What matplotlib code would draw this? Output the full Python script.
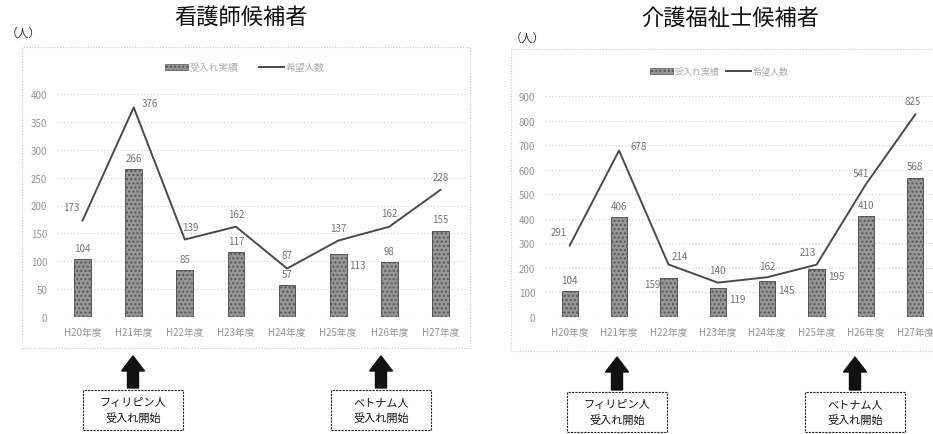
import matplotlib
matplotlib.use("Agg")
import matplotlib.pyplot as plt
from matplotlib.patches import Rectangle, FancyArrow

plt.rcParams["font.family"] = ["Noto Sans CJK JP", "DejaVu Sans"]

years = ["H20年度", "H21年度", "H22年度", "H23年度", "H24年度", "H25年度", "H26年度", "H27年度"]

nurse_accepted = [104, 266, 85, 117, 57, 113, 98, 155]
nurse_applicants = [173, 376, 139, 162, 87, 137, 162, 228]
nurse_yticks = [0, 50, 100, 150, 200, 250, 300, 350, 400]

care_accepted = [104, 406, 159, 119, 145, 195, 410, 568]
care_applicants = [291, 678, 214, 140, 162, 213, 541, 825]
care_yticks = [0, 100, 200, 300, 400, 500, 600, 700, 800, 900]

W, H = 933, 435
fig = plt.figure(figsize=(W / 100, H / 100), dpi=100)
fig.patch.set_facecolor("white")

BAR_FACE = "#969696"
BAR_EDGE = "#555555"
LINE_COLOR = "#4a4a4a"


def px_axes(left, top, right, bottom):
    # pixel box (from top-left) -> figure fraction axes
    return fig.add_axes([left / W, 1 - bottom / H, (right - left) / W, (bottom - top) / H])


def fig_text(x, y, s, **kw):
    fig.text(x / W, 1 - y / H, s, **kw)


def draw_chart(ax, accepted, applicants, yticks, bar_offsets, line_offsets):
    x = range(len(years))
    ax.bar(x, accepted, width=0.33, color=BAR_FACE, edgecolor=BAR_EDGE,
           hatch="....", linewidth=0.7, zorder=2)
    ax.plot(x, applicants, color=LINE_COLOR, linewidth=1.4, zorder=3)
    ax.set_xlim(-0.5, len(years) - 0.5)
    ax.set_ylim(yticks[0], yticks[-1])
    ax.set_yticks(yticks)
    ax.set_xticks(list(x))
    ax.set_xticklabels(years)
    ax.tick_params(length=0, labelsize=7, labelcolor="#939393", pad=7)
    ax.yaxis.grid(True, color="#d0d0d0", linestyle=(0, (1, 2)), linewidth=0.8)
    ax.set_axisbelow(True)
    for s in ax.spines.values():
        s.set_visible(False)
    ax.set_facecolor("none")
    for i, v in enumerate(accepted):
        dx, dy = bar_offsets.get(i, (0, 8))
        ax.annotate(str(v), (i, v), xytext=(dx, dy), textcoords="offset points",
                    ha="center", va="center", fontsize=7, color="#737373")
    for i, v in enumerate(applicants):
        dx, dy = line_offsets.get(i, (0, 9))
        ax.annotate(str(v), (i, v), xytext=(dx, dy), textcoords="offset points",
                    ha="center", va="center", fontsize=7, color="#737373")


def frame(left, top, right, bottom):
    fig.patches.append(Rectangle((left / W, 1 - bottom / H), (right - left) / W, (bottom - top) / H,
                                 transform=fig.transFigure, fill=False, edgecolor="#c8c8c8",
                                 linewidth=0.8, linestyle=(0, (1, 1.5))))


def legend(x_patch, y, line_x, size):
    fig.patches.append(Rectangle((x_patch / W, 1 - (y + 3) / H), 23 / W, 6 / H,
                                 transform=fig.transFigure, facecolor=BAR_FACE,
                                 edgecolor=BAR_EDGE, hatch="....", linewidth=0.5))
    fig_text(x_patch + 25, y, "受入れ実績", fontsize=size, color="#ababab", va="center")
    fig.lines.append(plt.Line2D([line_x / W, (line_x + 25) / W], [1 - y / H, 1 - y / H],
                                transform=fig.transFigure, color=LINE_COLOR, linewidth=1.4))
    fig_text(line_x + 27, y, "希望人数", fontsize=size, color="#ababab", va="center")


def callout(cx, arrow_top, arrow_bottom, box_top, box_bottom, text):
    fig.patches.append(FancyArrow(cx / W, 1 - arrow_bottom / H, 0, (arrow_bottom - arrow_top) / H,
                                  width=11 / W, head_width=23 / W, head_length=15 / H,
                                  length_includes_head=True, transform=fig.transFigure,
                                  facecolor="#111111", edgecolor="#111111"))
    fig.patches.append(Rectangle(((cx - 50) / W, 1 - box_bottom / H), 100 / W, (box_bottom - box_top) / H,
                                 transform=fig.transFigure, fill=False, edgecolor="#222222",
                                 linewidth=0.8, linestyle=(0, (2, 1))))
    fig_text(cx, (box_top + box_bottom) / 2, text, fontsize=8, color="#111111",
             ha="center", va="center", linespacing=1.5)


# left: nurse candidates
frame(22, 48, 470, 349)
fig_text(241, 18, "看護師候補者", fontsize=16, ha="center", va="center", color="#111111")
fig_text(6, 33, "（人）", fontsize=8.5, ha="left", va="center", color="#333333")
legend(165, 68, 259, 7)
ax1 = px_axes(57, 95, 466, 318)
draw_chart(ax1, nurse_accepted, nurse_applicants, nurse_yticks,
           bar_offsets={5: (14, -8)},
           line_offsets={0: (-8, 10), 1: (12, 3), 2: (4, 9), 4: (0, 10), 6: (0, 10), 7: (0, 9)})

# right: care worker candidates
frame(511, 50, 940, 352)
fig_text(730, 18, "介護福祉士候補者", fontsize=16, ha="center", va="center", color="#111111")
fig_text(510, 38, "（人）", fontsize=8.5, ha="left", va="center", color="#333333")
legend(650, 72, 726, 6.5)
ax2 = px_axes(545, 97, 940, 318)
draw_chart(ax2, care_accepted, care_applicants, care_yticks,
           bar_offsets={2: (-12, -4), 3: (14, -8), 4: (14, -6), 5: (14, -5)},
           line_offsets={0: (-8, 10), 1: (14, 3), 2: (8, 6), 4: (0, 8), 5: (-6, 9),
                         6: (-4, 8), 7: (-2, 10)})

callout(133, 357, 389, 391, 431, "フィリピン人\n受入れ開始")
callout(381, 357, 389, 391, 431, "ベトナム人\n受入れ開始")
callout(617, 358, 391, 393, 433, "フィリピン人\n受入れ開始")
callout(855, 358, 391, 393, 433, "ベトナム人\n受入れ開始")

fig.savefig("out.png", dpi=100, facecolor="white")
